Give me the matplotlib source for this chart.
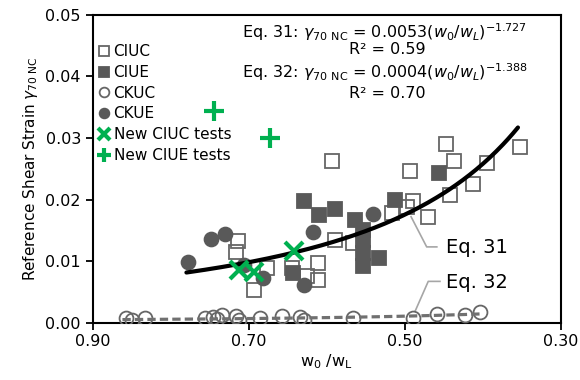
import numpy as np
import matplotlib.pyplot as plt

# CIUC (open squares)
ciuc_x = [0.714, 0.717, 0.677, 0.694, 0.645, 0.611, 0.611, 0.626, 0.593, 0.590, 0.566,
          0.494, 0.447, 0.437, 0.442, 0.489, 0.497, 0.470, 0.517, 0.395, 0.353, 0.412]
ciuc_y = [0.0132, 0.0115, 0.0088, 0.0053, 0.0088, 0.0097, 0.0070, 0.0075, 0.0262, 0.0134, 0.0129,
          0.0247, 0.0290, 0.0262, 0.0207, 0.0197, 0.0188, 0.0171, 0.0178, 0.0260, 0.0286, 0.0225]

# CIUE (filled squares)
ciue_x = [0.643, 0.629, 0.610, 0.589, 0.564, 0.554, 0.554, 0.554, 0.554, 0.533, 0.512, 0.456]
ciue_y = [0.0080, 0.0198, 0.0175, 0.0184, 0.0166, 0.0150, 0.0134, 0.0113, 0.0092, 0.0105, 0.0199, 0.0243]

# CKUC (open circles)
ckuc_x = [0.857, 0.850, 0.833, 0.756, 0.746, 0.741, 0.735, 0.716, 0.712, 0.686, 0.658,
          0.635, 0.629, 0.566, 0.489, 0.459, 0.423, 0.404]
ckuc_y = [0.0008, 0.0004, 0.0008, 0.0008, 0.0009, 0.0006, 0.0012, 0.0010, 0.0004, 0.0008, 0.0010,
          0.0009, 0.0004, 0.0008, 0.0008, 0.0014, 0.0012, 0.0018]

# CKUE (filled circles)
ckue_x = [0.778, 0.748, 0.730, 0.706, 0.682, 0.618, 0.629, 0.541]
ckue_y = [0.0098, 0.0136, 0.0144, 0.0094, 0.0072, 0.0148, 0.0061, 0.0177]

# new tests
new_ciuc_x = [0.712, 0.693, 0.642]
new_ciuc_y = [0.0086, 0.0083, 0.0117]
new_ciue_x = [0.744, 0.673]
new_ciue_y = [0.0343, 0.0300]

# power-law fits: coefficient, exponent, x range
eq31 = (0.0053, -1.727, 0.780, 0.355)
eq32 = (0.0004, -1.388, 0.862, 0.400)

edge = '#666666'
dark = '#595959'
green = '#00b050'

fig = plt.figure(figsize=(5.8, 3.8), dpi=100)
ax = fig.add_axes([0.160, 0.151, 0.807, 0.810])

ms = 10
ax.plot(ciuc_x, ciuc_y, 's', ms=ms, mfc='none', mec=edge, mew=1.3, label='CIUC', zorder=3)
ax.plot(ciue_x, ciue_y, 's', ms=ms, mfc=dark, mec=dark, mew=1.3, label='CIUE', zorder=3)
ax.plot(ckuc_x, ckuc_y, 'o', ms=ms, mfc='none', mec=edge, mew=1.3, label='CKUC', zorder=3)
ax.plot(ckue_x, ckue_y, 'o', ms=ms, mfc=dark, mec=dark, mew=1.3, label='CKUE', zorder=3)

a, b, lo, hi = eq31
xs = np.linspace(lo, hi, 200)
ax.plot(xs, a * xs ** b, color='black', lw=3, solid_capstyle='round', zorder=4)
a, b, lo, hi = eq32
xs = np.linspace(lo, hi, 200)
ax.plot(xs, a * xs ** b, color='#707070', lw=2.3, dashes=(2.6, 1.3), zorder=4)

ax.plot(new_ciuc_x, new_ciuc_y, 'x', ms=13, mec=green, mew=3, label='New CIUC tests', zorder=5)
ax.plot(new_ciue_x, new_ciue_y, '+', ms=15, mec=green, mew=3, label='New CIUE tests', zorder=5)

# leader lines for the fit labels
ax.plot([0.492, 0.472, 0.459], [0.0172, 0.0123, 0.0123], color='#a6a6a6', lw=1.2, zorder=2)
ax.plot([0.487, 0.470, 0.455], [0.0018, 0.0067, 0.0067], color='#a6a6a6', lw=1.2, zorder=2)
ax.text(0.447, 0.0122, 'Eq. 31', fontsize=14, va='center', ha='left')
ax.text(0.447, 0.0065, 'Eq. 32', fontsize=14, va='center', ha='left')

# equations
ax.text(0.318, 0.945, r'Eq. 31: $\gamma_{\mathrm{70\ NC}}$ = 0.0053($w_0/w_L$)$^{\mathrm{-1.727}}$',
        transform=ax.transAxes, fontsize=11.5, va='center', ha='left')
ax.text(0.63, 0.886, 'R² = 0.59', transform=ax.transAxes, fontsize=11.5, va='center', ha='center')
ax.text(0.318, 0.815, r'Eq. 32: $\gamma_{\mathrm{70\ NC}}$ = 0.0004($w_0/w_L$)$^{\mathrm{-1.388}}$',
        transform=ax.transAxes, fontsize=11.5, va='center', ha='left')
ax.text(0.63, 0.743, 'R² = 0.70', transform=ax.transAxes, fontsize=11.5, va='center', ha='center')

ax.set_xlim(0.90, 0.30)
ax.set_ylim(0, 0.05)
ax.set_xticks([0.90, 0.70, 0.50, 0.30])
ax.set_xticklabels(['0.90', '0.70', '0.50', '0.30'])
ax.set_yticks([0, 0.01, 0.02, 0.03, 0.04, 0.05])
ax.set_yticklabels(['0.00', '0.01', '0.02', '0.03', '0.04', '0.05'])
ax.tick_params(labelsize=11.5, width=1.3, length=5, direction='out')
for s in ax.spines.values():
    s.set_linewidth(1.5)

ax.set_xlabel(r'w$_0$ /w$_\mathrm{L}$', fontsize=11.5, labelpad=2)
ax.set_ylabel(r'Reference Shear Strain $\gamma_{\mathrm{70\ NC}}$', fontsize=11, labelpad=4)

ax.legend(loc='upper left', bbox_to_anchor=(0.015, 0.905), frameon=False, fontsize=11,
          handlelength=0.6, handletextpad=0.3, labelspacing=0.38, markerscale=0.7,
          borderaxespad=0, borderpad=0)

fig.savefig('out.png', dpi=100)
